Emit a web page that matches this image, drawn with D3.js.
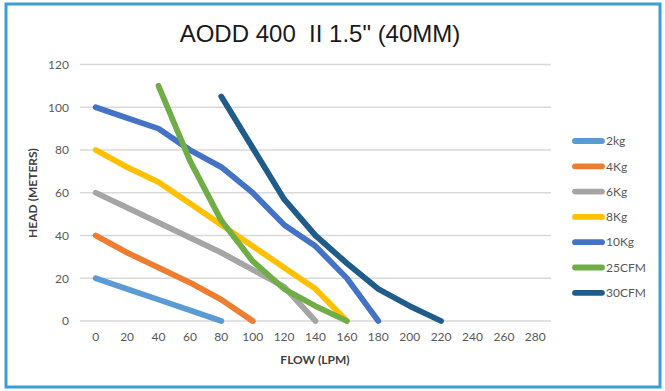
<!DOCTYPE html>
<html><head><meta charset="utf-8">
<script src="https://cdn.jsdelivr.net/npm/d3@7"></script>
<style>
html,body{margin:0;padding:0;background:#fff;}
svg{display:block;}
</style></head>
<body>
<svg id="c" width="665" height="391"></svg>
<script>
const categories = [0,20,40,60,80,100,120,140,160,180,200,220,240,260,280];
const yTicks = [0,20,40,60,80,100,120];
const seriesNames = ["2kg","4Kg","6Kg","8Kg","10Kg","25CFM","30CFM"];
const colors = ["#5b9bd5","#ed7d31","#a5a5a5","#ffc000","#4472c4","#70ad47","#1f5c8a"];
const s2kg   = [20,15,10,5,0];
const s4kg   = [40,32,25,18,10,0];
const s6kg   = [60,53,46,39,32,24,16,0];
const s8kg   = [80,72,65,55,45,35,25,15,0];
const s10kg  = [100,95,90,80,72,60,45,35,20,0];
const s25cfm = [null,null,110,75,47,28,15,7,0];
const s30cfm = [null,null,null,null,105,81,57,40,27,15,7,0];
const seriesValues = [s2kg,s4kg,s6kg,s8kg,s10kg,s25cfm,s30cfm];
const title = "AODD 400  II 1.5\" (40MM)";
const xTitle = "FLOW (LPM)";
const yTitle = "HEAD (METERS)";

const svg = d3.select("#c");
const font = "Lato, 'Open Sans', sans-serif";

// border
svg.append("rect").attr("x",6).attr("y",4).attr("width",654).attr("height",383)
  .attr("fill","#fff").attr("stroke","#3a9fd6").attr("stroke-width",3);

const x = d3.scaleBand().domain(categories).range([80,551]);
const y = d3.scaleLinear().domain([0,120]).range([321,64.5]);

// gridlines
svg.append("g").selectAll("line").data(yTicks).join("line")
  .attr("x1",80).attr("x2",551)
  .attr("y1",d=>y(d)).attr("y2",d=>y(d))
  .attr("stroke","#d9d9d9").attr("stroke-width",1.5);

// y axis labels
const yAxis = d3.axisLeft(y).tickValues(yTicks).tickSize(0).tickPadding(0);
const gy = svg.append("g").attr("transform","translate(69,0)").call(yAxis);
gy.select(".domain").remove();
gy.selectAll("text").attr("font-family",font).attr("font-size",12).attr("fill","#595959");

// x axis labels
const xAxis = d3.axisBottom(x).tickSize(0).tickPadding(0);
const gx = svg.append("g").attr("transform","translate(0,332)").call(xAxis);
gx.select(".domain").remove();
gx.selectAll("text").attr("font-family",font).attr("font-size",12).attr("fill","#595959");

// lines
const line = d3.line()
  .defined(d=>d.v!==null)
  .x(d=>x(d.c)+x.bandwidth()/2)
  .y(d=>y(d.v));
seriesValues.forEach((vals,i)=>{
  const pts = vals.map((v,j)=>({c:categories[j],v:v}));
  svg.append("path").datum(pts).attr("d",line)
    .attr("fill","none").attr("stroke",colors[i]).attr("stroke-width",5.8)
    .attr("stroke-linejoin","round").attr("stroke-linecap","round");
});

// title
svg.append("text").attr("x",320).attr("y",42).attr("text-anchor","middle")
  .attr("font-family","Arial, 'Liberation Sans', sans-serif").attr("font-size",24)
  .attr("fill","#1a1a1a").style("white-space","pre").text(title);

// axis titles
svg.append("text").attr("x",315).attr("y",364).attr("text-anchor","middle")
  .attr("font-family",font).attr("font-weight","bold").attr("font-size",12)
  .attr("fill","#404040").text(xTitle);
svg.append("text").attr("transform","translate(37,193) rotate(-90)").attr("text-anchor","middle")
  .attr("font-family",font).attr("font-weight","bold").attr("font-size",12)
  .attr("fill","#404040").text(yTitle);

// legend
const lg = svg.append("g");
seriesNames.forEach((n,i)=>{
  const yy = 141 + i*25.3;
  lg.append("line").attr("x1",575).attr("x2",602).attr("y1",yy).attr("y2",yy)
    .attr("stroke",colors[i]).attr("stroke-width",5.8).attr("stroke-linecap","round");
  lg.append("text").attr("x",606).attr("y",yy).attr("dy","0.35em")
    .attr("font-family",font).attr("font-size",12).attr("fill","#595959").text(n);
});
</script>
</body></html>
